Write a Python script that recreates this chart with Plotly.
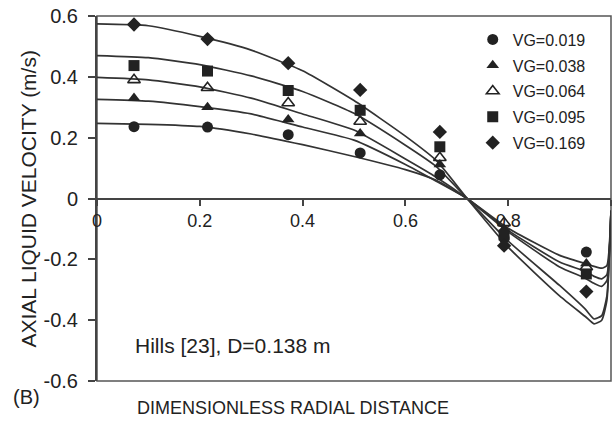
import plotly.graph_objects as go

# ---------------- data ----------------
series_names = ["VG=0.019", "VG=0.038", "VG=0.064", "VG=0.095", "VG=0.169"]
symbols = ["circle", "triangle-up", "triangle-up-open", "square", "diamond"]

# measured points
x_meas = [0.072, 0.215, 0.372, 0.512, 0.667, 0.792, 0.952]
y_vg019 = [0.236, 0.235, 0.210, 0.150, 0.078, -0.130, -0.176]
y_vg038 = [0.330, 0.300, 0.260, 0.214, 0.112, -0.100, -0.214]
y_vg064 = [0.390, 0.364, 0.314, 0.253, 0.134, -0.080, -0.225]
y_vg095 = [0.437, 0.419, 0.355, 0.290, 0.170, -0.120, -0.248]
y_vg169 = [0.572, 0.524, 0.445, 0.357, 0.219, -0.155, -0.306]

# fitted curves
x_fit = [0.0, 0.1, 0.2, 0.3, 0.4, 0.5, 0.6, 0.66, 0.72, 0.8, 0.9, 0.95, 0.967, 0.982, 0.992, 1.0]
f_vg019 = [0.247, 0.244, 0.237, 0.212, 0.177, 0.138, 0.095, 0.060, 0.0, -0.098, -0.187, -0.214, -0.223, -0.229, -0.220, -0.04]
f_vg038 = [0.326, 0.320, 0.302, 0.278, 0.235, 0.192, 0.112, 0.057, 0.0, -0.105, -0.209, -0.240, -0.256, -0.264, -0.250, -0.04]
f_vg064 = [0.398, 0.390, 0.367, 0.330, 0.278, 0.225, 0.130, 0.070, 0.0, -0.110, -0.225, -0.262, -0.279, -0.289, -0.270, -0.04]
f_vg095 = [0.470, 0.463, 0.440, 0.403, 0.352, 0.280, 0.175, 0.105, 0.0, -0.140, -0.286, -0.364, -0.396, -0.385, -0.320, -0.04]
f_vg169 = [0.574, 0.568, 0.533, 0.488, 0.420, 0.322, 0.205, 0.125, 0.0, -0.160, -0.320, -0.388, -0.412, -0.400, -0.335, -0.04]

meas = [y_vg019, y_vg038, y_vg064, y_vg095, y_vg169]
fits = [f_vg019, f_vg038, f_vg064, f_vg095, f_vg169]

x_ticks = [0, 0.2, 0.4, 0.6, 0.8, 1.0]
x_ticktext = ["0", "0.2", "0.4", "0.6", "0.8", ""]
y_ticks = [-0.6, -0.4, -0.2, 0, 0.2, 0.4, 0.6]
y_ticktext = ["-0.6", "-0.4", "-0.2", "0", "0.2", "0.4", "0.6"]

FONT = "Arial, Liberation Sans, Helvetica, sans-serif"
INK = "#222222"
LINE = "#333333"

fig = go.Figure()

for i, (name, fy) in enumerate(zip(series_names, fits)):
    fig.add_trace(go.Scatter(
        x=x_fit, y=fy, mode="lines",
        line=dict(color=LINE, width=1.7, shape="spline", smoothing=0.5),
        showlegend=False, hoverinfo="skip"))

for i, (name, sym, my) in enumerate(zip(series_names, symbols, meas)):
    fig.add_trace(go.Scatter(
        x=x_meas, y=my, mode="markers", name=name, legendgroup=name,
        marker=dict(symbol=sym, size=11, color=INK,
                    line=dict(color=INK, width=1.6 if "open" in sym else 0))))

fig.update_layout(
    width=614, height=421,
    margin=dict(l=97, r=3, t=16, b=40),
    paper_bgcolor="white", plot_bgcolor="white",
    font=dict(family=FONT, size=16, color=INK),
    showlegend=True,
    legend=dict(x=0.731, y=0.982, xanchor="left", yanchor="top",
                bgcolor="rgba(0,0,0,0)", borderwidth=0,
                font=dict(family=FONT, size=16, color=INK),
                tracegroupgap=2, itemwidth=30),
    xaxis=dict(range=[0, 1], tickvals=x_ticks, ticktext=x_ticktext,
               anchor="free", position=0.5,
               showline=True, linecolor="#444444", linewidth=2,
               ticks="outside", ticklen=6, tickwidth=1.5, tickcolor="#444444",
               showgrid=False, zeroline=False,
               tickfont=dict(family=FONT, size=18, color=INK)),
    yaxis=dict(range=[-0.6, 0.6], tickvals=y_ticks, ticktext=y_ticktext,
               showline=True, linecolor="#444444", linewidth=2,
               ticks="outside", ticklen=7, tickwidth=1.5, tickcolor="#444444",
               ticklabelstandoff=6,
               showgrid=False, zeroline=False,
               tickfont=dict(family=FONT, size=20, color=INK)),
    shapes=[dict(type="rect", xref="paper", yref="paper", x0=0, x1=1, y0=0, y1=1,
                 line=dict(color="#555555", width=1.5), layer="below")],
    annotations=[
        dict(text="DIMENSIONLESS RADIAL DISTANCE", xref="paper", yref="paper",
             x=0.381, y=-0.073, xanchor="center", yanchor="middle", showarrow=False,
             font=dict(family=FONT, size=18, color=INK)),
        dict(text="AXIAL LIQUID VELOCITY (m/s)", xref="paper", yref="paper",
             x=-0.134, y=0.5, xanchor="center", yanchor="middle", showarrow=False,
             textangle=-90, font=dict(family=FONT, size=21, color=INK)),
        dict(text="(B)", xref="paper", yref="paper",
             x=-0.137, y=-0.044, xanchor="center", yanchor="middle", showarrow=False,
             font=dict(family=FONT, size=20, color=INK)),
        dict(text="Hills [23], D=0.138 m", xref="paper", yref="paper",
             x=0.07, y=0.096, xanchor="left", yanchor="middle", showarrow=False,
             font=dict(family=FONT, size=21, color=INK)),
    ],
)

fig.write_html("out.html")
